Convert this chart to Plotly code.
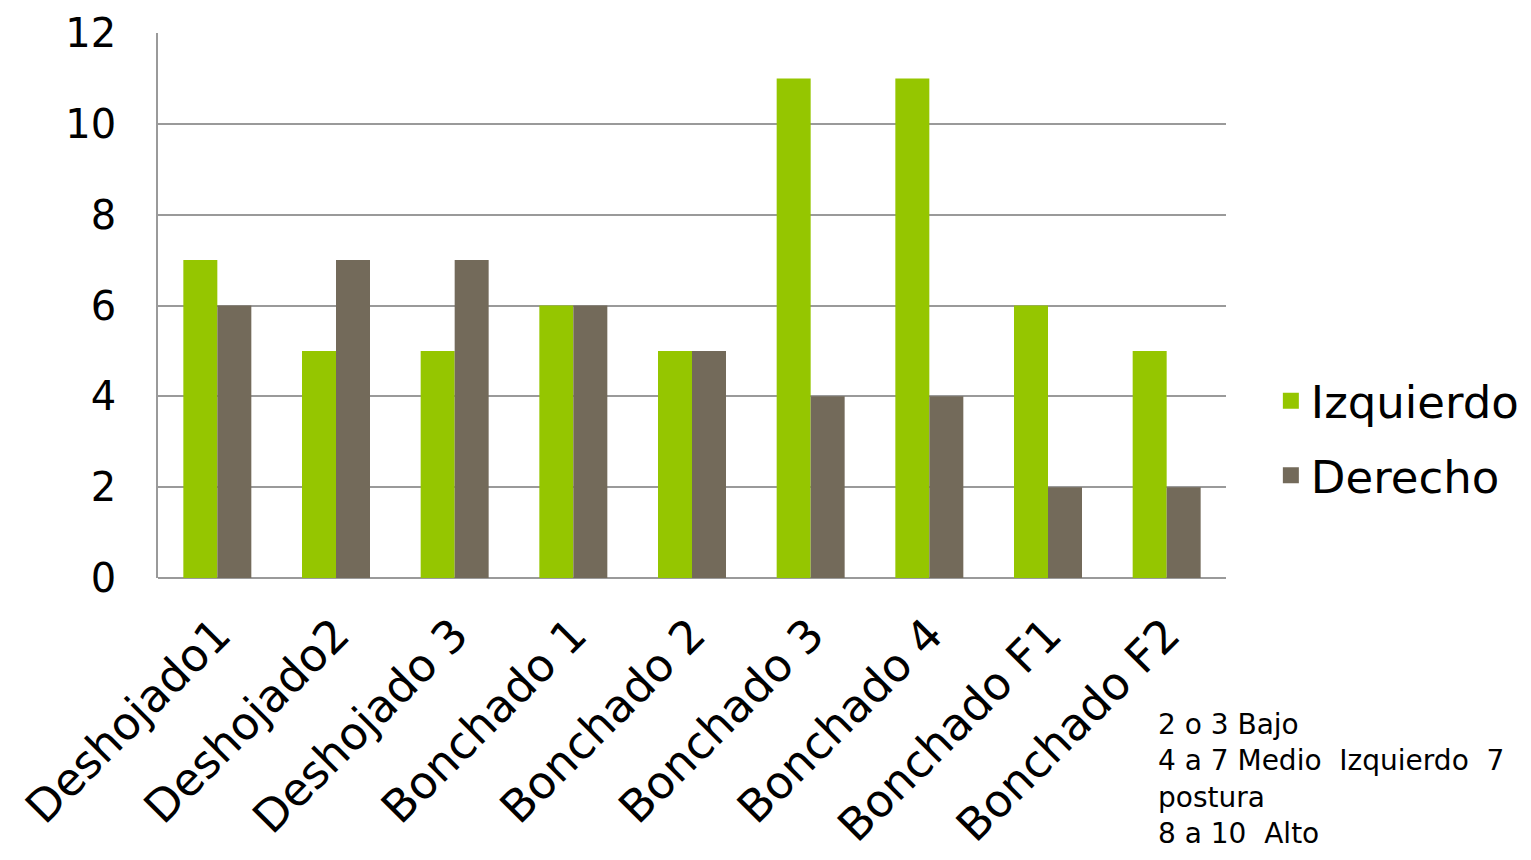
import plotly.graph_objects as go

categories = ["Deshojado1", "Deshojado2", "Deshojado 3", "Bonchado 1", "Bonchado 2",
              "Bonchado 3", "Bonchado 4", "Bonchado F1", "Bonchado F2"]
izquierdo = [7, 5, 5, 6, 5, 11, 11, 6, 5]
derecho = [6, 7, 7, 6, 5, 4, 4, 2, 2]
y_ticks = [0, 2, 4, 6, 8, 10, 12]
note_lines = ["2 o 3 Bajo", "4 a 7 Medio\u00a0 Izquierdo\u00a0 7", "postura", "8 a 10\u00a0 Alto"]

GREEN = "#95C600"
BROWN = "#736A5A"
GRID = "#9A9A9A"
FONT = "DejaVu Sans"

fig = go.Figure()
fig.add_trace(go.Bar(name="Izquierdo", x=categories, y=izquierdo, marker_color=GREEN,
                     marker_line_width=0, showlegend=False, legendgroup="a"))
fig.add_trace(go.Bar(name="Derecho", x=categories, y=derecho, marker_color=BROWN,
                     marker_line_width=0, showlegend=False, legendgroup="b"))
# legend entries with square swatches
fig.add_trace(go.Scatter(name="Izquierdo", x=[None], y=[None], mode="markers",
                         marker=dict(symbol="square", size=25, color=GREEN),
                         legendgroup="a", showlegend=True))
fig.add_trace(go.Scatter(name="Derecho", x=[None], y=[None], mode="markers",
                         marker=dict(symbol="square", size=25, color=BROWN),
                         legendgroup="b", showlegend=True))

fig.update_layout(
    width=1531, height=860,
    margin=dict(l=150, r=313, t=25, b=290),
    paper_bgcolor="white", plot_bgcolor="white",
    barmode="group", bargap=0.427, bargroupgap=0,
    font=dict(family=FONT, color="#000000"),
    showlegend=True,
    legend=dict(x=1.042, y=0.257, xanchor="left", yanchor="middle",
                font=dict(size=45, family=FONT), itemwidth=30, itemsizing="trace",
                tracegroupgap=13, bgcolor="rgba(0,0,0,0)"),
)
fig.update_xaxes(
    tickangle=-45, tickfont=dict(size=45, family=FONT),
    showgrid=False, showline=False, ticks="", automargin=False,
    ticklabelstandoff=20, ticklabeloverflow="allow",
)
fig.update_yaxes(
    range=[0, 12], tickvals=y_ticks, tickfont=dict(size=40, family=FONT),
    showgrid=True, gridcolor=GRID, gridwidth=1.5,
    showline=True, linecolor=GRID, linewidth=1.5,
    zeroline=True, zerolinecolor=GRID, zerolinewidth=1.5,
    ticks="", ticklabelstandoff=32, automargin=False, ticklabeloverflow="allow",
)
fig.add_annotation(
    x=(1148 - 150) / (1531 - 150 - 313), y=-0.235, xref="paper", yref="paper",
    text="<br>".join(note_lines), showarrow=False, align="left",
    xanchor="left", yanchor="top", font=dict(size=28, family=FONT),
)

fig.write_html("out.html")
